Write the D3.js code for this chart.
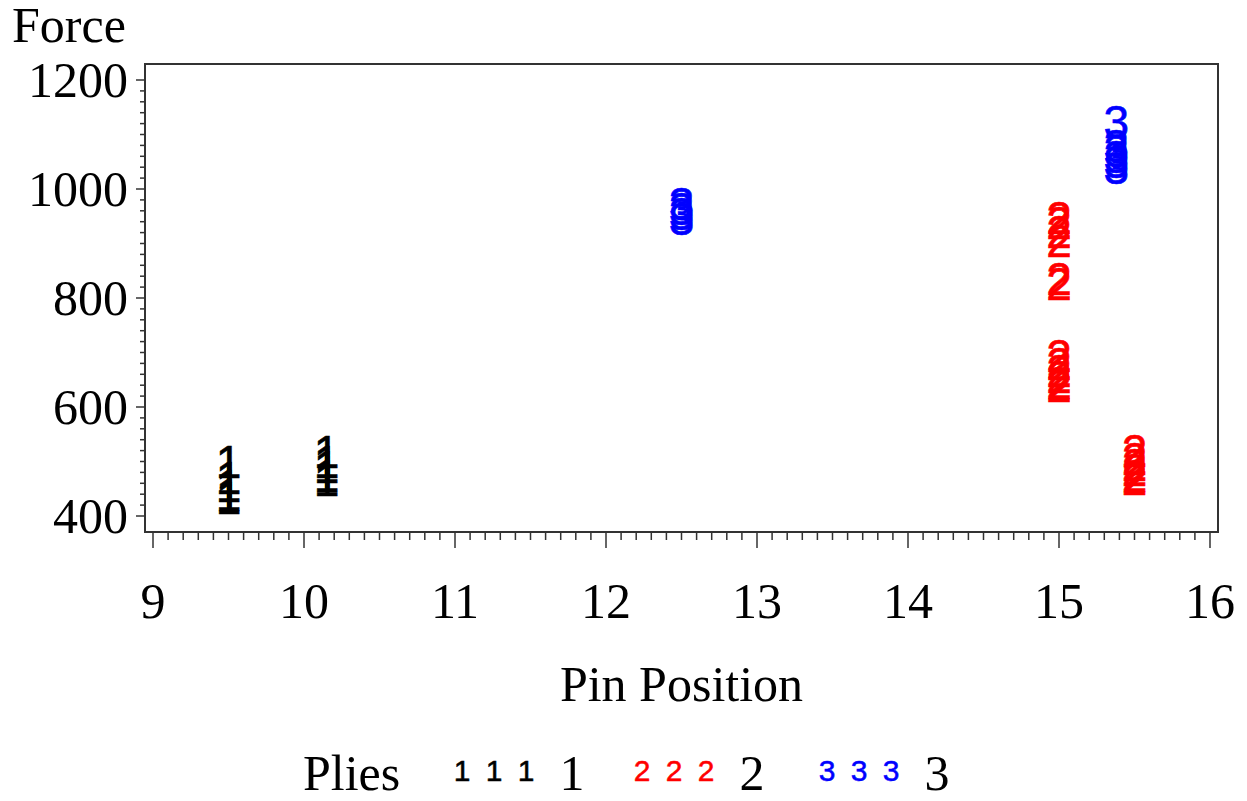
<!DOCTYPE html>
<html>
<head>
<meta charset="utf-8">
<script src="https://cdn.jsdelivr.net/npm/d3@7"></script>
<style>
  body { margin: 0; background: #fff; }
  text { font-family: "Liberation Serif", "Times New Roman", serif; }
</style>
</head>
<body>
<div id="chart"></div>
<script>
// data
const pliesLevels = ["1", "2", "3"];
const pin1 = [9.5, 9.5, 9.5, 9.5, 9.5, 10.15, 10.15, 10.15, 10.15, 10.15];
const force1 = [500, 470, 455, 440, 433, 518, 500, 490, 475, 466];
const pin2 = [15, 15, 15, 15, 15, 15, 15, 15, 15, 15, 15, 15, 15.5, 15.5, 15.5, 15.5, 15.5, 15.5];
const force2 = [948, 938, 922, 905, 835, 826, 694, 680, 666, 655, 645, 639, 520, 505, 495, 485, 475, 469];
const pin3 = [12.5, 12.5, 12.5, 12.5, 15.38, 15.38, 15.38, 15.38, 15.38, 15.38];
const force3 = [973, 965, 955, 946, 1124, 1080, 1070, 1060, 1050, 1039];
const xTicks = [9, 10, 11, 12, 13, 14, 15, 16];
const yTicks = [400, 600, 800, 1000, 1200];

const width = 1247, height = 801;
const colors = { "1": "#000000", "2": "#ff0000", "3": "#0000ff" };
const labelSize = "50px";

const svg = d3.select("#chart").append("svg")
  .attr("width", width)
  .attr("height", height);

const x = d3.scaleLinear().domain([9, 16]).range([153, 1210]);
const y = d3.scaleLinear().domain([400, 1200]).range([516, 80]);

const frame = { left: 145, right: 1218, top: 64, bottom: 532 };

// frame
svg.append("rect")
  .attr("x", frame.left)
  .attr("y", frame.top)
  .attr("width", frame.right - frame.left)
  .attr("height", frame.bottom - frame.top)
  .attr("fill", "none")
  .attr("stroke", "#333")
  .attr("stroke-width", 2);

// x axis ticks
const xMinor = d3.range(90, 161).map(d => d / 10);
svg.append("g").selectAll("line")
  .data(xMinor)
  .join("line")
  .attr("x1", d => x(d))
  .attr("x2", d => x(d))
  .attr("y1", frame.bottom)
  .attr("y2", d => frame.bottom + (Math.abs(d - Math.round(d)) < 1e-6 ? 16 : 8))
  .attr("stroke", "#333")
  .attr("stroke-width", 1.5);

svg.append("g").selectAll("text")
  .data(xTicks)
  .join("text")
  .attr("x", d => x(d))
  .attr("y", 618)
  .attr("text-anchor", "middle")
  .style("font-size", labelSize)
  .text(d => d);

// y axis ticks
const yMinor = d3.range(400, 1201, 20);
svg.append("g").selectAll("line")
  .data(yMinor)
  .join("line")
  .attr("x1", frame.left)
  .attr("x2", d => frame.left - (d % 200 === 0 ? 9 : 5))
  .attr("y1", d => y(d))
  .attr("y2", d => y(d))
  .attr("stroke", "#333")
  .attr("stroke-width", 1.5);

svg.append("g").selectAll("text")
  .data(yTicks)
  .join("text")
  .attr("x", 128)
  .attr("y", d => y(d) + 17)
  .attr("text-anchor", "end")
  .style("font-size", labelSize)
  .text(d => d);

// titles
svg.append("text")
  .attr("x", 12)
  .attr("y", 42)
  .style("font-size", labelSize)
  .text("Force");

svg.append("text")
  .attr("x", (frame.left + frame.right) / 2)
  .attr("y", 701)
  .attr("text-anchor", "middle")
  .style("font-size", labelSize)
  .text("Pin Position");

// data symbols, drawn as digits
const fs = 46;
const series = [
  { key: "1", pin: pin1, force: force1 },
  { key: "2", pin: pin2, force: force2 },
  { key: "3", pin: pin3, force: force3 }
];
series.forEach(s => {
  const pts = s.pin.map((p, i) => ({ pin: p, force: s.force[i] }));
  svg.append("g").selectAll("text")
    .data(pts)
    .join("text")
    .attr("x", d => x(d.pin))
    .attr("y", d => y(d.force) + fs * 0.358)
    .attr("text-anchor", "middle")
    .attr("fill", colors[s.key])
    .attr("stroke", colors[s.key])
    .attr("stroke-width", 0.6)
    .style("font-family", "'Liberation Sans', Arial, sans-serif")
    .style("font-size", fs + "px")
    .text(s.key);
});

// legend
const legend = svg.append("g");
legend.append("text")
  .attr("x", 303)
  .attr("y", 790)
  .style("font-size", labelSize)
  .text("Plies");

const legendStart = { "1": 462, "2": 642, "3": 827 };
pliesLevels.forEach(k => {
  [0, 1, 2].forEach(j => {
    legend.append("text")
      .attr("x", legendStart[k] + j * 32)
      .attr("y", 781)
      .attr("text-anchor", "middle")
      .attr("fill", colors[k])
      .attr("stroke", colors[k])
      .attr("stroke-width", 0.5)
      .style("font-family", "'Liberation Sans', Arial, sans-serif")
      .style("font-size", "30px")
      .text(k);
  });
  legend.append("text")
    .attr("x", legendStart[k] + 110)
    .attr("y", 790)
    .attr("text-anchor", "middle")
    .style("font-size", labelSize)
    .text(k);
});
</script>
</body>
</html>
